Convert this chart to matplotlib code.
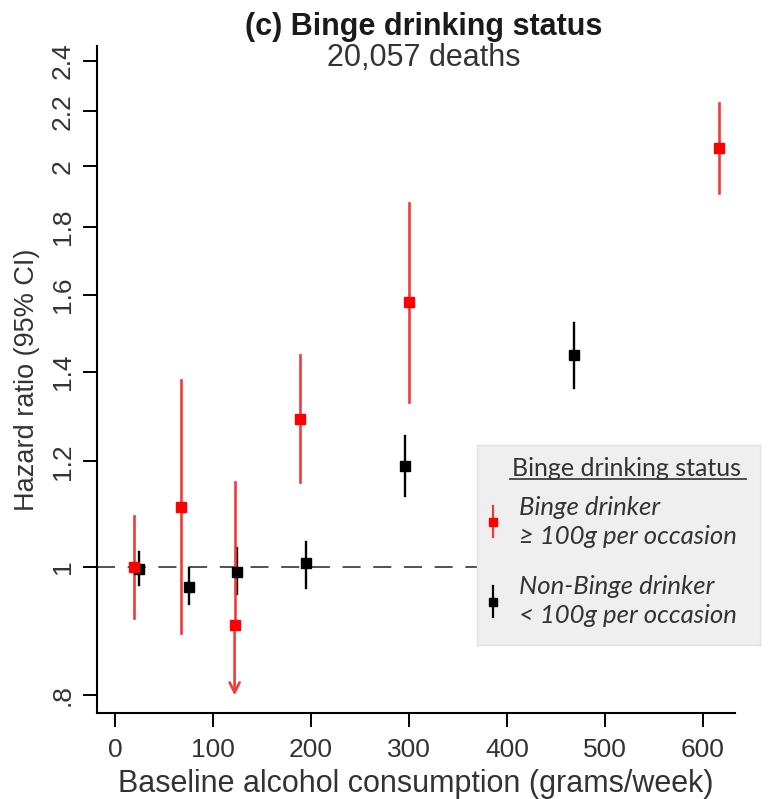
import matplotlib
matplotlib.use("Agg")
import matplotlib.pyplot as plt
import numpy as np

plt.rcParams['font.family'] = ['Liberation Sans', 'DejaVu Sans']

# Binge drinkers (red)
binge_x = [19, 67, 122, 189, 300, 616]
binge_hr = [1.00, 1.109, 0.904, 1.291, 1.582, 2.064]
binge_lo = [0.915, 0.891, 0.80, 1.157, 1.33, 1.911]
binge_hi = [1.092, 1.381, 1.157, 1.443, 1.876, 2.231]
binge_truncated = [False, False, True, False, False, False]

# Non-binge drinkers (black)
nonbinge_x = [24, 75, 124, 195, 296, 468]
nonbinge_hr = [0.996, 0.965, 0.991, 1.006, 1.190, 1.443]
nonbinge_lo = [0.969, 0.937, 0.953, 0.963, 1.129, 1.362]
nonbinge_hi = [1.026, 0.998, 1.032, 1.044, 1.254, 1.524]

yticks = [0.8, 1, 1.2, 1.4, 1.6, 1.8, 2, 2.2, 2.4]
ytick_labels = ['.8', '1', '1.2', '1.4', '1.6', '1.8', '2', '2.2', '2.4']
xticks = [0, 100, 200, 300, 400, 500, 600]

title = "(c) Binge drinking status"
subtitle = "20,057 deaths"
xlabel = "Baseline alcohol consumption (grams/week)"
ylabel = "Hazard ratio (95% CI)"
legend_title = "Binge drinking status"
legend_labels = ["Binge drinker\n\u2265 100g per occasion", "Non-Binge drinker\n< 100g per occasion"]

RED = '#ff0000'
RED_LINE = '#f23a3a'

fig = plt.figure(figsize=(7.68, 7.99), dpi=100)
ax = fig.add_axes([97/768, 1-713/799, (735-97)/768, (713-46)/799])
ax.set_yscale('log')
ax.set_xlim(-18.4, 632.6)
ax.set_ylim(0.776, 2.463)

ax.axhline(1.0, color='#444444', lw=1.3, dashes=(10, 7), zorder=1)

# non-binge
for x, h, lo, hi in zip(nonbinge_x, nonbinge_hr, nonbinge_lo, nonbinge_hi):
    ax.plot([x, x], [lo, hi], color='black', lw=1.7, zorder=3)
ax.plot(nonbinge_x, nonbinge_hr, 's', color='black', ms=7, zorder=4, lw=0)

# binge
for x, h, lo, hi, tr in zip(binge_x, binge_hr, binge_lo, binge_hi, binge_truncated):
    if tr:
        ax.plot([x, x], [h, hi], color=RED_LINE, lw=1.9, zorder=3)
        ax.annotate('', xy=(x, lo), xytext=(x, h),
                    arrowprops=dict(arrowstyle='->', color=RED_LINE, lw=1.9,
                                    mutation_scale=18, shrinkA=0, shrinkB=0), zorder=3)
    else:
        ax.plot([x, x], [lo, hi], color=RED_LINE, lw=1.9, zorder=3)
ax.plot(binge_x, binge_hr, 's', color=RED, ms=7, zorder=4, lw=0)

ax.set_yticks(yticks)
ax.set_yticklabels(ytick_labels, rotation=90, va='center')
ax.yaxis.set_minor_locator(matplotlib.ticker.NullLocator())
ax.set_xticks(xticks)
ax.tick_params(axis='both', labelsize=19, length=10, width=1.4, colors='black',
               labelcolor='#333333')
ax.tick_params(axis='y', pad=6)
ax.tick_params(axis='x', pad=8)
for s in ['top', 'right']:
    ax.spines[s].set_visible(False)
for s in ['left', 'bottom']:
    ax.spines[s].set_linewidth(1.5)

ax.set_xlabel(xlabel, fontsize=22, color='#333333', labelpad=5)
ax.set_ylabel(ylabel, fontsize=19.5, color='#333333', labelpad=8)

fig.text(424/768, 1-27/799, title, fontsize=22, fontweight='bold', ha='center', va='center', color='#1a1a1a')
fig.text(424/768, 1-58/799, subtitle, fontsize=22, ha='center', va='center', color='#333333')

# legend box
lax = fig.add_axes([477/768, 1-645/799, (760-477)/768, (645-445)/799])
lax.set_facecolor('#efefef')
lax.set_xlim(0, 1)
lax.set_ylim(0, 1)
lax.set_xticks([])
lax.set_yticks([])
for s in lax.spines.values():
    s.set_edgecolor('#e2e2e2')
    s.set_linewidth(1)
lax.set_zorder(5)

lfont = ['Lato', 'DejaVu Sans']
lax.text(0.53, 0.885, legend_title, fontsize=18, family=lfont, ha='center', va='center', color='#333333')
lax.plot([0.116, 0.95], [0.83, 0.83], color='#333333', lw=1.2)
lax.text(0.147, 0.615, legend_labels[0], fontsize=18.5, family=lfont, style='italic',
         ha='left', va='center', color='#333333', linespacing=1.3)
lax.text(0.147, 0.22, legend_labels[1], fontsize=18.5, family=lfont, style='italic',
         ha='left', va='center', color='#333333', linespacing=1.3)
lax.plot([0.057, 0.057], [0.54, 0.695], color=RED_LINE, lw=1.6)
lax.plot([0.057], [0.615], 's', color=RED, ms=6)
lax.plot([0.057], [0.215], 's', color='black', ms=6)
lax.plot([0.057, 0.057], [0.14, 0.295], color='black', lw=1.6)

fig.savefig('out.png', dpi=100)
